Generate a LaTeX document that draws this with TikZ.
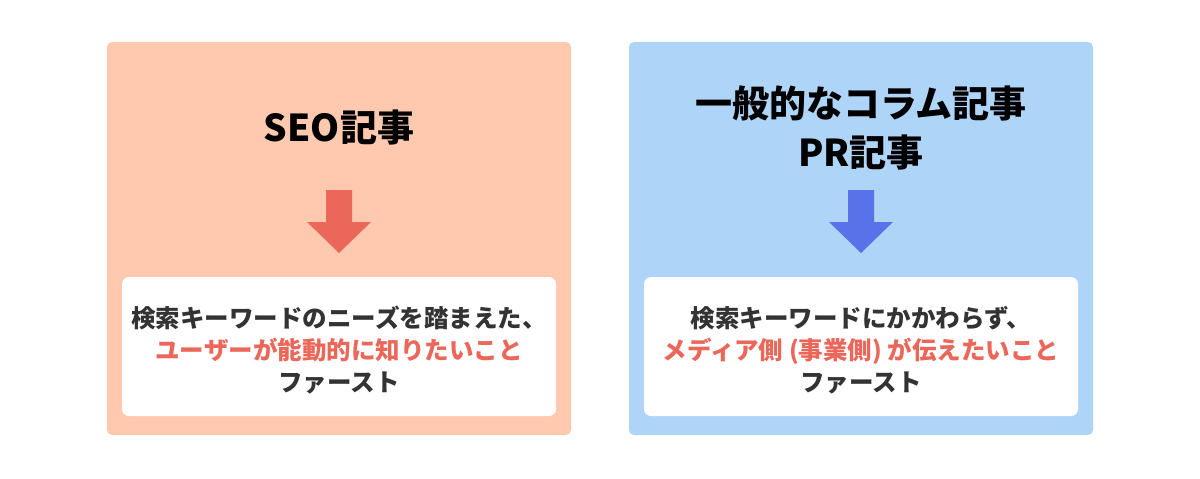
\documentclass[tikz,border=0pt]{standalone}
\usepackage{fontspec}
\setmainfont{Noto Sans CJK JP}
\usetikzlibrary{positioning}
\definecolor{seobg}{HTML}{FEC9AF}
\definecolor{prbg}{HTML}{AED4F7}
\definecolor{seored}{HTML}{EB675A}
\definecolor{prblue}{HTML}{5872EA}
\definecolor{bodytext}{HTML}{333333}
\tikzset{
  panel/.style={rounded corners=5pt, inner sep=0pt},
  card/.style={fill=white, rounded corners=7pt, inner sep=0pt},
  title/.style={font=\bfseries\fontsize{37}{49}\selectfont, align=center, text=black},
  body/.style={font=\bfseries\fontsize{24.5}{32}\selectfont, align=center, text=bodytext},
}
\newcommand{\downarrowbig}[3]{% x, y top, colour
  \fill[#3] (#1-13,#2) -- (#1+13,#2) -- (#1+13,#2+32) -- (#1+32,#2+32)
    -- (#1,#2+63) -- (#1-32,#2+32) -- (#1-13,#2+32) -- cycle;}
\begin{document}
\begin{tikzpicture}[x=1pt, y=-1pt]
  \useasboundingbox (0,0) rectangle (1200,479);
  % left panel
  \fill[seobg, panel] (107,42) rectangle (571,435);
  \node[title] (seotitle) at (339,127) {SEO記事};
  \downarrowbig{339}{190}{seored}
  \fill[card] (122,277) rectangle (556,416);
  \node[body] (seobody) at (339,350) {検索キーワードのニーズを踏まえた、\\
    \textcolor{seored}{ユーザーが能動的に知りたいこと}\\ ファースト};
  % right panel
  \fill[prbg, panel] (629,42) rectangle (1093,435);
  \node[title] (prtitle) at (861,128) {一般的なコラム記事\\PR記事};
  \downarrowbig{861}{190}{prblue}
  \fill[card] (644,277) rectangle (1078,416);
  \node[body] (prbody) at (861,350) {検索キーワードにかかわらず、\\
    \textcolor{seored}{メディア側 (事業側) が伝えたいこと}\\ ファースト};
\end{tikzpicture}
\end{document}
